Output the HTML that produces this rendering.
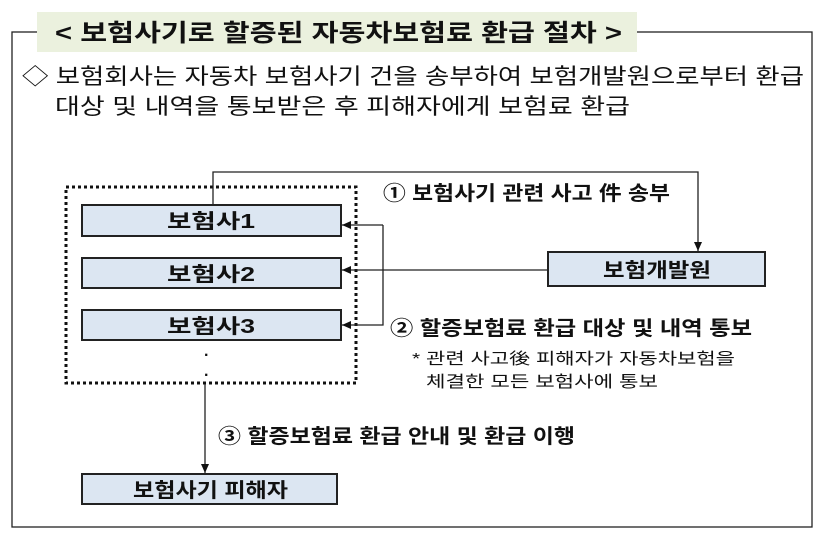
<!DOCTYPE html>
<html><head><meta charset="utf-8"><style>
html,body{margin:0;padding:0;background:#fff;}
svg{display:block;}
text{font-family:"Liberation Sans","Noto Sans CJK KR",sans-serif;fill:#111;}
</style></head><body>
<svg width="819" height="539" viewBox="0 0 819 539" xmlns="http://www.w3.org/2000/svg">
<defs><marker id="a" markerWidth="10" markerHeight="10" refX="9" refY="5" orient="auto" markerUnits="userSpaceOnUse"><path d="M0,1 L9,5 L0,9 z" fill="#111"/></marker></defs>
<rect x="12" y="32" width="800" height="495" fill="none" stroke="#222" stroke-width="1.3"/>
<rect x="37" y="12" width="600" height="40" fill="#ebf1de"/>
<text x="55" y="41" font-size="24" font-weight="bold" textLength="567" lengthAdjust="spacingAndGlyphs">&lt; 보험사기로 할증된 자동차보험료 환급 절차 &gt;</text>
<text x="22" y="84" font-size="22" textLength="782" lengthAdjust="spacingAndGlyphs">◇ 보험회사는 자동차 보험사기 건을 송부하여 보험개발원으로부터 환급</text>
<text x="55" y="114" font-size="22" textLength="575" lengthAdjust="spacingAndGlyphs">대상 및 내역을 통보받은 후 피해자에게 보험료 환급</text>
<rect x="66" y="187" width="290" height="196" fill="none" stroke="#111" stroke-width="3" stroke-dasharray="3,3"/>
<g fill="#dce6f2" stroke="#222" stroke-width="2">
<rect x="82" y="205" width="259" height="31"/>
<rect x="82" y="258" width="259" height="30"/>
<rect x="82" y="310" width="259" height="30"/>
<rect x="548" y="252" width="217" height="34"/>
<rect x="82" y="474" width="255" height="30"/>
</g>
<g font-size="20" font-weight="bold">
<text x="167" y="228" textLength="88" lengthAdjust="spacingAndGlyphs">보험사1</text>
<text x="167" y="281" textLength="88" lengthAdjust="spacingAndGlyphs">보험사2</text>
<text x="167" y="333" textLength="88" lengthAdjust="spacingAndGlyphs">보험사3</text>
<text x="603" y="277" textLength="108" lengthAdjust="spacingAndGlyphs">보험개발원</text>
<text x="133" y="497" textLength="155" lengthAdjust="spacingAndGlyphs">보험사기 피해자</text>
</g>
<text x="204" y="360" font-size="16" font-weight="bold">·</text>
<text x="204" y="380" font-size="16" font-weight="bold">·</text>
<g stroke="#222" stroke-width="1.3" fill="none">
<polyline points="213,205 213,172 698,172 698,251" marker-end="url(#a)"/>
<line x1="548" y1="270" x2="342" y2="270" marker-end="url(#a)"/>
<polyline points="383,225 342,225" marker-end="url(#a)"/>
<polyline points="383,225 383,325 342,325" marker-end="url(#a)"/>
<line x1="205" y1="384" x2="205" y2="473" marker-end="url(#a)"/>
</g>
<text x="383" y="200" font-size="20" font-weight="bold" textLength="287" lengthAdjust="spacingAndGlyphs">① 보험사기 관련 사고 件 송부</text>
<text x="390" y="335" font-size="20" font-weight="bold" textLength="362" lengthAdjust="spacingAndGlyphs">② 할증보험료 환급 대상 및 내역 통보</text>
<text x="412" y="364" font-size="16" textLength="323" lengthAdjust="spacingAndGlyphs">* 관련 사고後 피해자가 자동차보험을</text>
<text x="426" y="387" font-size="16" textLength="232" lengthAdjust="spacingAndGlyphs">체결한 모든 보험사에 통보</text>
<text x="218" y="443" font-size="20" font-weight="bold" textLength="357" lengthAdjust="spacingAndGlyphs">③ 할증보험료 환급 안내 및 환급 이행</text>
</svg>
</body></html>
